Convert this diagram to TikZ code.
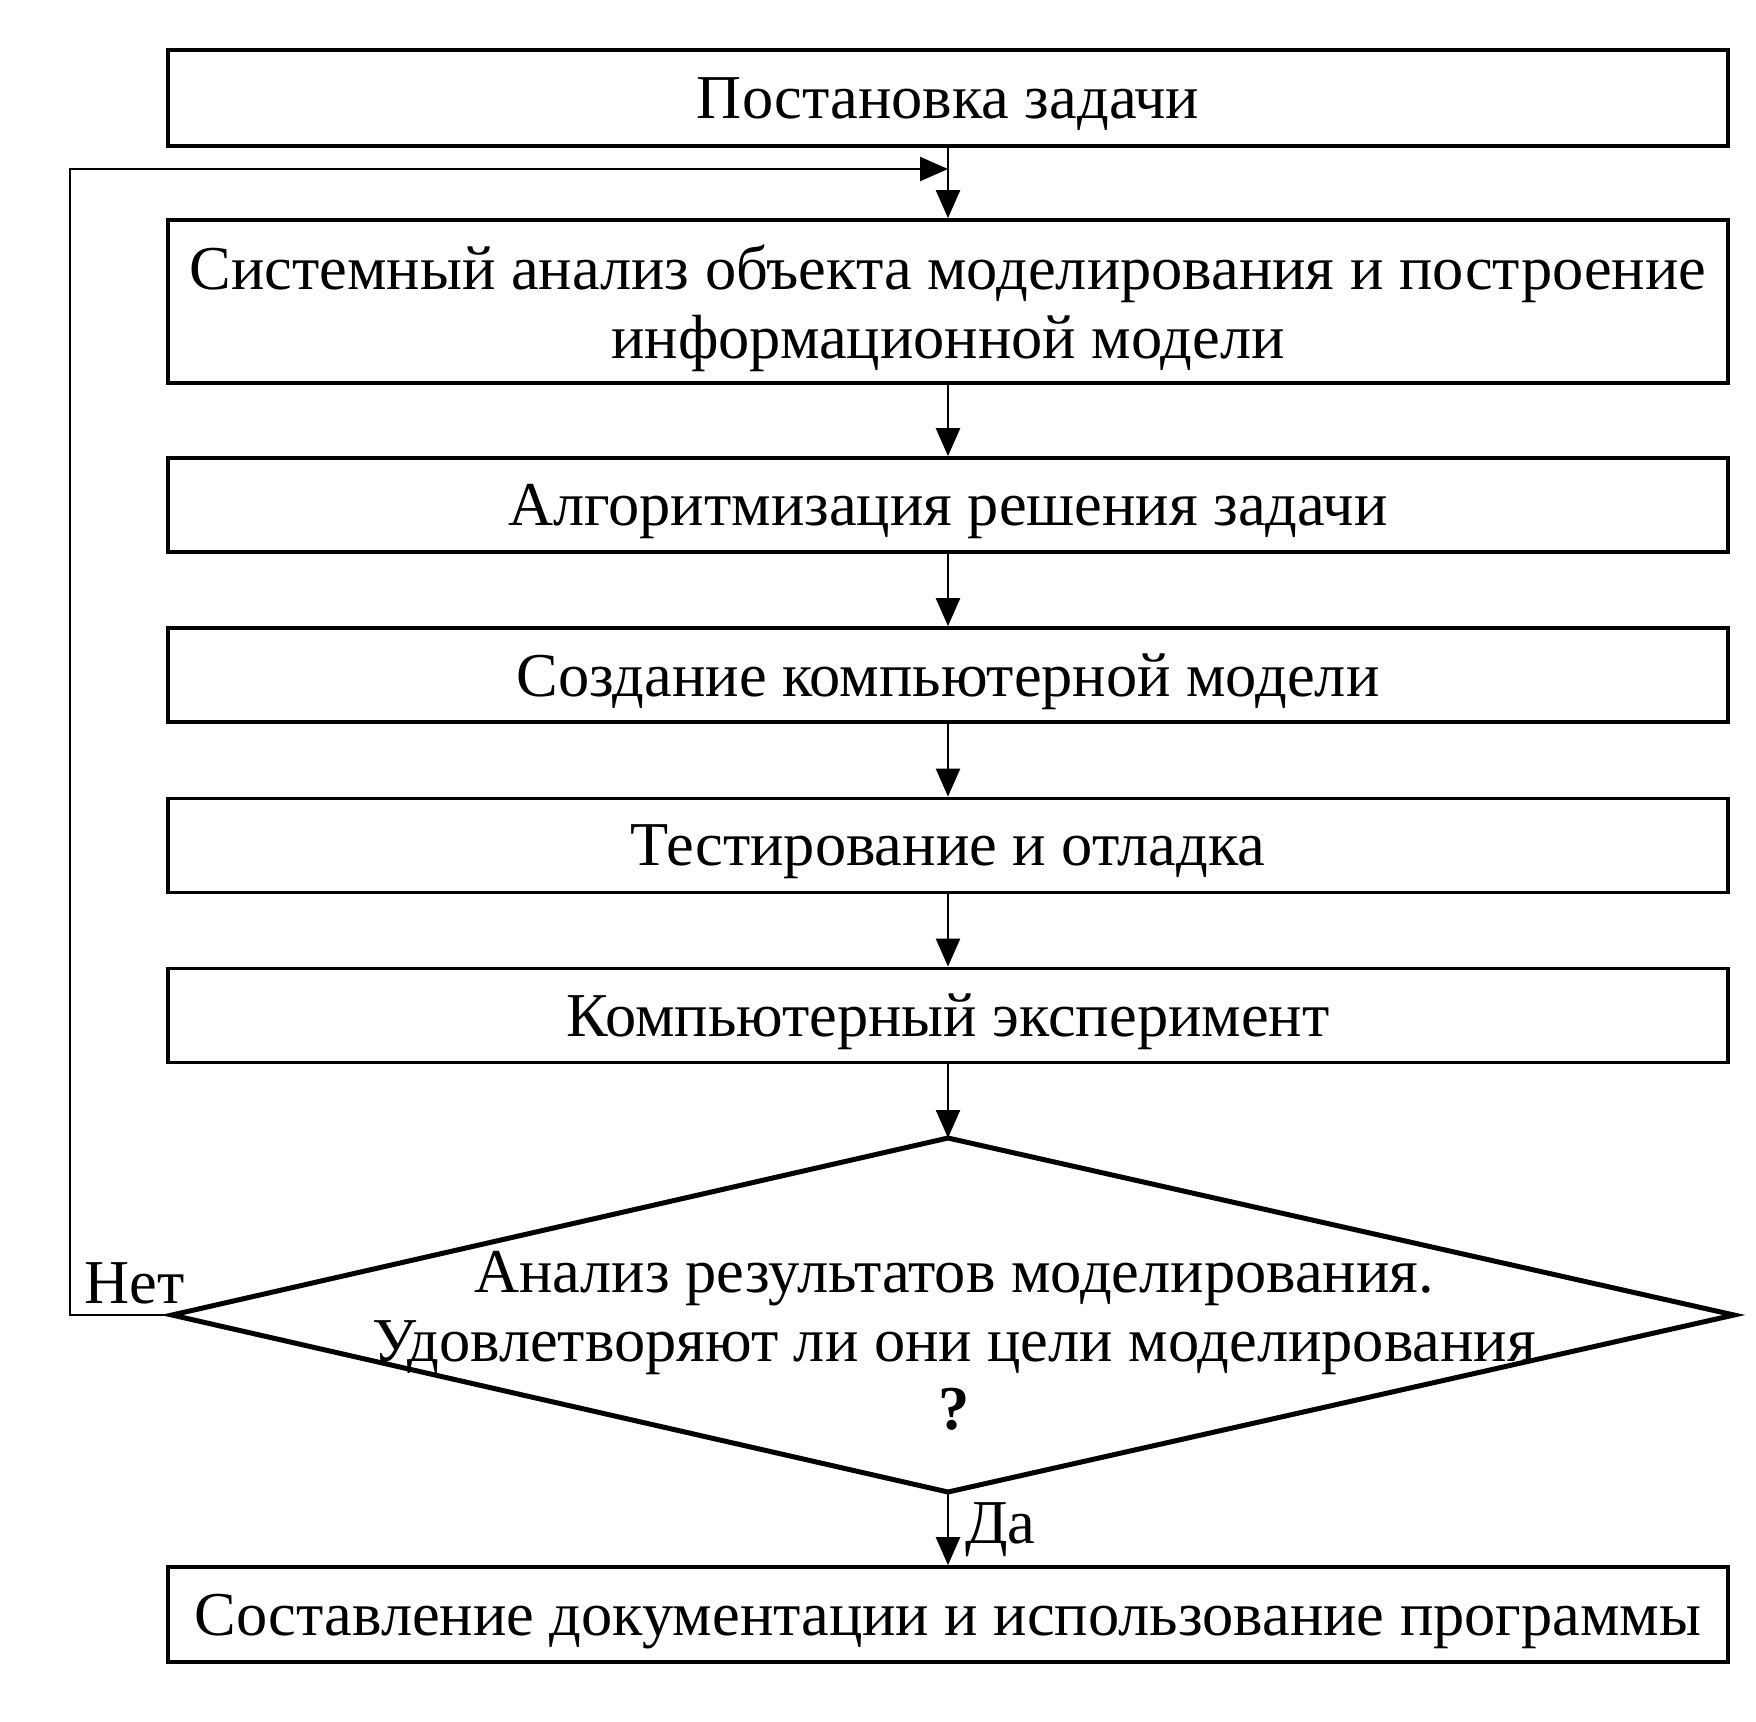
\documentclass[tikz,border=0pt]{standalone}
\usepackage{fontspec}
\setmainfont{Liberation Serif}
\usetikzlibrary{arrows.meta}
\begin{document}
\begin{tikzpicture}[x=0.5pt,y=-0.5pt,
  txt/.style={font=\fontsize{31.2}{34.2}\selectfont, align=center, inner sep=0pt},
  box/.style={txt, draw, line width=1.9pt, minimum width=780pt, minimum height=47pt, text depth=0pt},
  conn/.style={line width=1.2pt, -{Triangle[length=14pt,width=12pt]}}]
\useasboundingbox (0,0) rectangle (1756,1721);
\node[box, minimum height=48pt] (b1) at (948,98) {Постановка задачи};
\node[box, minimum height=81.5pt] (b2) at (948,301.5) {Системный анализ объекта моделирования и построение\\информационной модели};
\node[box] (b3) at (948,505) {Алгоритмизация решения задачи};
\node[box] (b4) at (948,675) {Создание компьютерной модели};
\node[box] (b5) at (948,845.5) {Тестирование и отладка};
\node[box] (b6) at (948,1015.5) {Компьютерный эксперимент};
\node[box, minimum height=47.5pt] (b7) at (948,1614.5) {Составление документации и использование программы};
% decision
\coordinate (dT) at (948,1138);
\coordinate (dR) at (1734,1315);
\coordinate (dB) at (948,1492);
\coordinate (dL) at (172,1315);
\draw[line width=2.5pt] (dT) -- (dR) -- (dB) -- (dL) -- cycle;
\node[txt] (dtext) at (954,1341) {Анализ результатов моделирования.\\Удовлетворяют ли они цели моделирования\\\textbf{?}};
% connectors
\coordinate (join) at (948,169);
\coordinate (lb) at (70,1315);
\coordinate (lt) at (70,169);
\draw[conn] (b1.south) -- (b2.north);
\draw[conn] (b2.south) -- (b3.north);
\draw[conn] (b3.south) -- (b4.north);
\draw[conn] (b4.south) -- (b5.north);
\draw[conn] (b5.south) -- (b6.north);
\draw[conn] (b6.south) -- (dT);
\draw[conn] (dB) -- (b7.north);
\draw[conn] (dL) -- (lb) -- (lt) -- (join);
\node[txt, anchor=base west] (no) at (84,1303) {Нет};
\node[txt, anchor=base west] (yes) at (965,1543) {Да};
\end{tikzpicture}
\end{document}
